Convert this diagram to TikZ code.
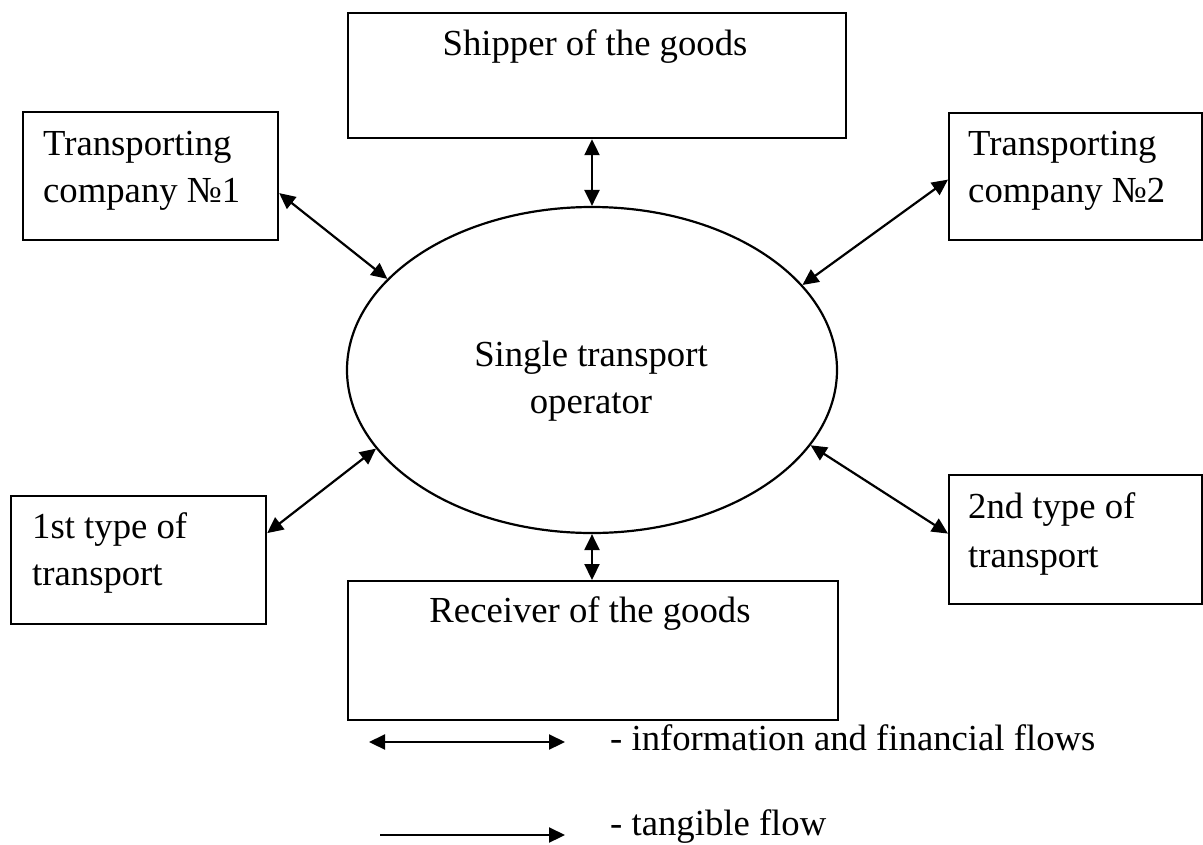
\documentclass[tikz,border=0pt]{standalone}
\usepackage{fontspec}
\setmainfont{Liberation Serif}
\usetikzlibrary{arrows.meta,shapes.geometric}
\begin{document}
\begin{tikzpicture}[x=1pt,y=-1pt,
  box/.style={draw, line width=2.2pt, rectangle, inner sep=0pt, anchor=north west},
  oval/.style={draw, line width=2.2pt, ellipse, inner sep=0pt},
  twoway/.style={line width=2.2pt, {Triangle[length=16pt,width=15pt]}-{Triangle[length=16pt,width=15pt]}},
  oneway/.style={line width=2.2pt, -{Triangle[length=16pt,width=15pt]}},
  txt/.style={font=\fontsize{36.7}{47}\selectfont, inner sep=0pt}
]
\useasboundingbox (0,0) rectangle (1203,844);

% central operator
\node[oval, minimum width=490pt, minimum height=326pt] (op) at (592,370) {};
\node[txt, anchor=base] (opa) at (591,366) {Single transport};
\node[txt, anchor=base] (opb) at (591,413) {operator};

% surrounding participants
\node[box, minimum width=498pt, minimum height=125pt] (shipper) at (347,12) {};
\node[txt, anchor=base] (shippert) at (595,55) {Shipper of the goods};

\node[box, minimum width=490pt, minimum height=139pt] (receiver) at (347,580) {};
\node[txt, anchor=base] (receivert) at (590,622) {Receiver of the goods};

\node[box, minimum width=255pt, minimum height=128pt] (tc1) at (22,111) {};
\node[txt, anchor=base west] (tc1a) at (43,155) {Transporting};
\node[txt, anchor=base west] (tc1b) at (43,202) {company №1};

\node[box, minimum width=253pt, minimum height=127pt] (tc2) at (948,112) {};
\node[txt, anchor=base west] (tc2a) at (968,155) {Transporting};
\node[txt, anchor=base west] (tc2b) at (968,202) {company №2};

\node[box, minimum width=255pt, minimum height=128pt] (tr1) at (10,495) {};
\node[txt, anchor=base west] (tr1a) at (32,538) {1st type of};
\node[txt, anchor=base west] (tr1b) at (32,585) {transport};

\node[box, minimum width=253pt, minimum height=129pt] (tr2) at (948,474) {};
\node[txt, anchor=base west] (tr2a) at (968,518) {2nd type of};
\node[txt, anchor=base west] (tr2b) at (968,567) {transport};

% information and financial flows
\draw[twoway] (shipper.south -| op.north) -- (op.north);
\draw[twoway] (op.south) -- (op.south |- receiver.north);
\draw[twoway] ([yshift=-17pt]tc1.east) -- (op.156);
\draw[twoway] ([yshift=-3pt]tc2.west) -- (op.22);
\draw[twoway] ([yshift=27pt]tr1.east) -- (op.200);
\draw[twoway] (op.341) -- ([yshift=6pt]tr2.west);

% legend
\coordinate (l1a) at (369,742);
\coordinate (l1b) at (565,742);
\coordinate (l2a) at (380,835);
\coordinate (l2b) at (565,835);
\draw[twoway] (l1a) -- (l1b);
\draw[oneway] (l2a) -- (l2b);
\node[txt, anchor=base west] (leg1) at (610,750) {- information and financial flows};
\node[txt, anchor=base west] (leg2) at (610,835) {- tangible flow};
\end{tikzpicture}
\end{document}
